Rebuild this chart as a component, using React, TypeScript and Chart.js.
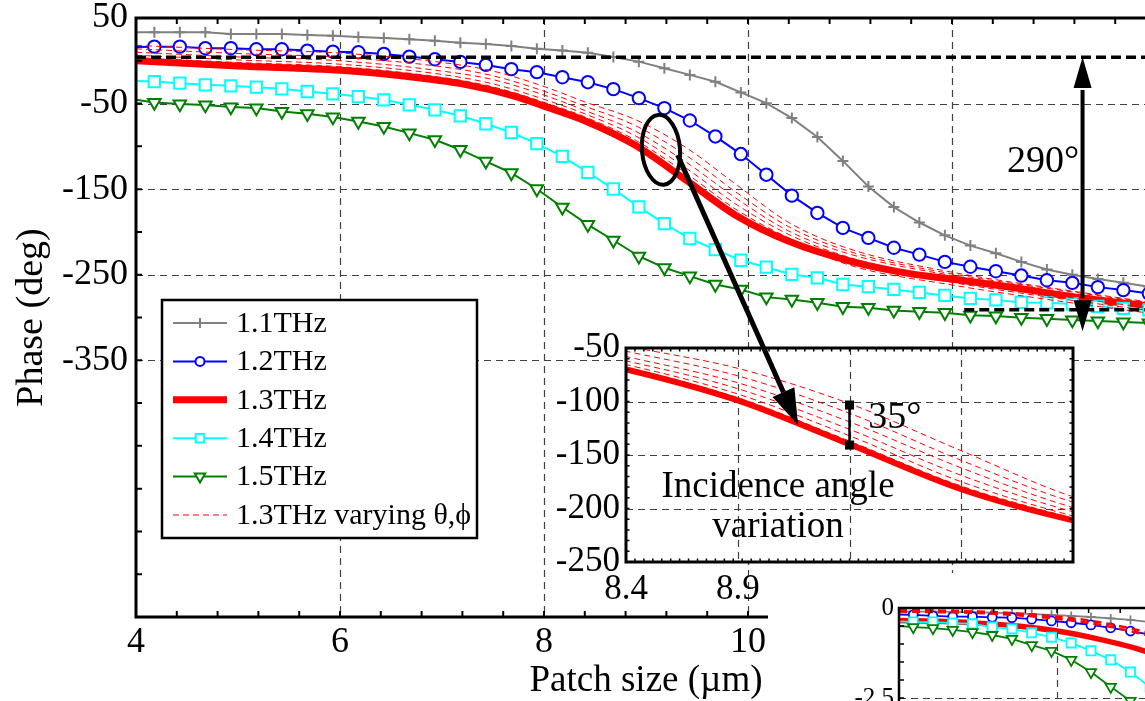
import React, { useEffect, useRef } from 'react';
import { Chart, registerables } from 'chart.js';

Chart.register(...registerables);

const FONT = "'Liberation Serif', 'Times New Roman', serif";

// ---------------- main figure data ----------------
const MARKER_X = [4.18, 4.43, 4.68, 4.93, 5.18, 5.43, 5.68, 5.93, 6.18, 6.43, 6.68, 6.93, 7.18, 7.43, 7.68, 7.93, 8.18, 8.43, 8.68, 8.93, 9.18, 9.43, 9.68, 9.93, 10.18, 10.43, 10.68, 10.93, 11.18, 11.43, 11.68, 11.93, 12.18, 12.43, 12.68, 12.93, 13.18, 13.43, 13.68, 13.93];

const GRAY_START = 33.3;
const GRAY = [33.3, 33.3, 33.3, 31.3, 31.3, 31.3, 30.2, 29.4, 27.8, 26.5, 25.2, 23.5, 21, 19.5, 17.3, 14, 12, 9.5, 4.5, -1, -8.7, -16.5, -24.5, -37, -49.5, -67, -89, -117, -147, -171, -189, -204, -216, -225, -235, -244, -250, -255, -259.5, -264];

const BLUE_START = 16;
const BLUE = [16.5, 16.5, 14.7, 14.7, 13.5, 13.5, 11.9, 10.7, 10, 8, 4.9, 1.8, -1.3, -4.8, -9.8, -13.3, -19.2, -25, -33.1, -43.6, -55.3, -69.8, -88.4, -109, -133.1, -157.6, -177.8, -195.3, -206.9, -218.5, -226.5, -235, -240.7, -245.9, -251, -256.5, -259.5, -264.5, -268, -272];

const CYAN_START = -23.5;
const CYAN = [-24.3, -26.2, -28.1, -29.3, -30.8, -32.8, -35.9, -38.6, -41.8, -45.6, -51.5, -57.3, -64.3, -73.6, -83.8, -96.9, -111.7, -130.4, -149.8, -170.8, -190.2, -207.7, -220.6, -233.1, -241.2, -249.7, -253.6, -261.4, -264, -267.2, -270.7, -274.2, -277.7, -279.4, -282.4, -282.9, -284.1, -287, -289.4, -291];

const GREEN_START = -45.6;
const GREEN = [-48.8, -50.6, -51.8, -54.1, -55.3, -59.3, -62, -65.8, -70.9, -76.8, -84.5, -92.3, -103.9, -117.6, -131.1, -149.8, -171.2, -191.4, -209.7, -228.4, -241.9, -251.7, -261.4, -267.2, -276.2, -278.9, -282.7, -287.4, -288.5, -291.7, -293.2, -294.4, -297.5, -298.3, -300.2, -301.4, -303, -304.2, -305.3, -306.5];

const RED_X = [4, 5, 6, 6.6, 7.2, 7.7, 8, 8.4, 8.9, 9.4, 9.9, 10.4, 11, 11.6, 12, 12.6, 13.2, 13.9, 14.2];
const RED_Y = [0, -6, -11, -17.5, -27, -41, -53, -70, -99, -140, -182, -211, -234, -249, -255, -265, -276, -286, -290];

const VAR_X = [4, 5, 6, 7, 7.5, 8, 8.4, 8.9, 9.4, 9.9, 10.4, 11, 12, 13, 14];
const VAR_1 = [18, 13, 9, -2, -12, -30, -48, -69, -102, -146, -189, -220, -247, -266, -283];
const VAR_2 = [14, 8.5, 4, -7, -17.5, -35.5, -53, -76, -111, -155, -194, -223, -249, -267, -284];
const VAR_3 = [10, 4.5, 0, -12, -22, -40, -58, -82.5, -119, -162, -199, -226, -251, -269, -285];
const VAR_4 = [6.5, 1, -4, -16, -27, -45, -62, -88, -126, -169, -203, -230, -256, -274, -290];
const VAR_5 = [3.5, -2, -7, -19.5, -30.5, -48.5, -65.5, -93, -132, -175, -207, -236, -259, -277, -293];
const VAR_6 = [1.5, -4.5, -9.5, -22, -33, -51, -68, -96.5, -137, -179, -209, -239, -262, -280, -296];
const VAR_SETS = [VAR_1, VAR_2, VAR_3, VAR_4, VAR_5, VAR_6];

const SERIES_LABELS = ['1.1THz', '1.2THz', '1.3THz', '1.4THz', '1.5THz', '1.3THz varying θ,ϕ'];

const X_TICKS = [4, 4.4, 4.8, 5.2, 5.6, 6, 6.4, 6.8, 7.2, 7.6, 8, 8.4, 8.8, 9.2, 9.6, 10, 10.4, 10.8, 11.2, 11.6, 12, 12.4, 12.8, 13.2, 13.6, 14];
const X_LABELS = [4, 6, 8, 10, 12, 14];
const X_GRID = [6, 8, 10, 12];
const Y_TICKS = [50, 0, -50, -100, -150, -200, -250, -300, -350, -400, -450, -500, -550, -600, -650];
const Y_LABELS = [50, -50, -150, -250, -350];
const Y_GRID = [-50, -150, -250, -350];

// annotations (data coordinates of the main axes)
const REF_TOP = 4;
const REF_LOW = -291;
const REF_LOW_FROM = 12.12;
const SPAN_X = 13.28;
const SPAN_TOP = 4.5;
const SPAN_BOTTOM = -316;
const SPAN_TEXT = { x: 12.54, y: -118, text: '290°' };
const ELLIPSE_C = { x: 9.147, y: -104 };
const ARROW_FROM = { x: 9.31, y: -110 };

// ---------------- inset data / annotations ----------------
const INSET_X_LABELS = [8.4, 8.9, 9.4, 9.9, 10.4];
const INSET_X_GRID = [8.9, 9.4, 9.9];
const INSET_Y_LABELS = [-50, -100, -150, -200, -250];
const INSET_Y_GRID = [-100, -150, -200];
const ARROW_TO = { x: 9.17, y: -122 };
const BAR = { x: 9.4, top: -103.3, bottom: -140.7 };
const BAR_TEXT = { x: 9.484, y: -115.4, text: '35°' };
const INSET_TEXT = [
  { x: 9.08, y: -180, text: 'Incidence angle' },
  { x: 9.08, y: -218, text: 'variation' },
];

// ---------------- second (cropped) figure ----------------
const SUB_MARKS = 13;
const SUB_GRAY_START = -0.1;
const SUB_GRAY = [-0.1, -0.1, -0.11, -0.12, -0.13, -0.15, -0.17, -0.19, -0.22, -0.25, -0.29, -0.33, -0.39];
const SUB_BLUE_START = -0.18;
const SUB_BLUE = [-0.19, -0.22, -0.24, -0.24, -0.26, -0.27, -0.31, -0.36, -0.41, -0.47, -0.55, -0.64, -0.74];
const SUB_CYAN_START = -0.37;
const SUB_CYAN = [-0.39, -0.39, -0.42, -0.44, -0.53, -0.58, -0.69, -0.81, -0.97, -1.19, -1.44, -1.78, -2.2];
const SUB_GREEN_START = -0.5;
const SUB_GREEN = [-0.53, -0.56, -0.61, -0.67, -0.75, -0.86, -1.03, -1.19, -1.44, -1.78, -2.19, -2.58, -3.0];
const SUB_RED_X = [4, 4.5, 5, 5.5, 6, 6.5, 7, 7.4];
const SUB_RED = [-0.35, -0.37, -0.42, -0.5, -0.64, -0.85, -1.12, -1.4];
const SUB_VAR_X = [4, 5, 5.5, 6, 6.5, 7, 7.4];
const SUB_VAR_A = [-0.05, -0.1, -0.15, -0.24, -0.38, -0.6, -0.82];
const SUB_VAR_B = [-0.1, -0.14, -0.2, -0.3, -0.45, -0.68, -0.9];
const SUB_Y_TICKS = [0, -0.5, -1, -1.5, -2, -2.5, -3, -3.5, -4, -4.5, -5];
const SUB_Y_LABELS = [0, -2.5, -5];
const SUB_X_GRID = [6, 8, 10, 12];
const SUB_Y_GRID = [-2.5];

// ---------------- helpers ----------------
const near = (list: number[], v: number) => list.some((l) => Math.abs(l - v) < 1e-6);
const pairs = (xs: number[], ys: number[]) => xs.map((x, i) => ({ x, y: ys[i] }));
const withStart = (start: number, vals: number[], n = vals.length) => [
  { x: 4, y: start },
  ...MARKER_X.slice(0, n).map((x, i) => ({ x, y: vals[i] })),
];
const noPad = (s: any) => {
  s.paddingTop = 0;
  s.paddingBottom = 0;
  s.paddingLeft = 0;
  s.paddingRight = 0;
};

function markerSet(label: string, color: string, style: string, r: number, start: number, vals: number[], order: number, lw = 2, rot = 0, legendR = 0) {
  return {
    label,
    data: withStart(start, vals),
    borderColor: color,
    backgroundColor: color,
    borderWidth: lw,
    pointStyle: style,
    pointRadius: (c: any) => (c.dataIndex === 0 ? 0 : r),
    pointBorderColor: color,
    pointBackgroundColor: '#ffffff',
    pointBorderWidth: lw,
    pointRotation: rot,
    tension: 0,
    order,
    inLegend: legendR > 0,
    legendMark: legendR,
  };
}

function drawMark(ctx: CanvasRenderingContext2D, style: string, x: number, y: number, r: number, rot: number, color: string, lw: number) {
  ctx.save();
  ctx.strokeStyle = color;
  ctx.fillStyle = '#ffffff';
  ctx.lineWidth = lw;
  ctx.setLineDash([]);
  ctx.beginPath();
  if (style === 'cross') {
    ctx.moveTo(x - r, y);
    ctx.lineTo(x + r, y);
    ctx.moveTo(x, y - r);
    ctx.lineTo(x, y + r);
    ctx.stroke();
    ctx.restore();
    return;
  }
  if (style === 'circle') ctx.arc(x, y, r, 0, Math.PI * 2);
  else if (style === 'rect') {
    const s = r * Math.SQRT1_2;
    ctx.rect(x - s, y - s, 2 * s, 2 * s);
  } else if (style === 'triangle') {
    let a = (rot * Math.PI) / 180;
    for (let i = 0; i < 3; i++) {
      const px = x + Math.sin(a) * r;
      const py = y - Math.cos(a) * r;
      if (i === 0) ctx.moveTo(px, py);
      else ctx.lineTo(px, py);
      a += (2 * Math.PI) / 3;
    }
    ctx.closePath();
  }
  ctx.fill();
  ctx.stroke();
  ctx.restore();
}

function arrowHead(ctx: CanvasRenderingContext2D, fx: number, fy: number, tx: number, ty: number, len: number, halfW: number) {
  const dx = tx - fx;
  const dy = ty - fy;
  const d = Math.hypot(dx, dy) || 1;
  const ux = dx / d;
  const uy = dy / d;
  const bx = tx - ux * len;
  const by = ty - uy * len;
  ctx.beginPath();
  ctx.moveTo(tx, ty);
  ctx.lineTo(bx - uy * halfW, by + ux * halfW);
  ctx.lineTo(bx + uy * halfW, by - ux * halfW);
  ctx.closePath();
  ctx.fill();
  return { bx, by };
}

function dashedGrid(ctx: CanvasRenderingContext2D, a: any, x: any, y: any, xs: number[], ys: number[]) {
  ctx.save();
  ctx.strokeStyle = '#404040';
  ctx.lineWidth = 1.2;
  ctx.setLineDash([7, 5]);
  ctx.beginPath();
  xs.forEach((v) => {
    const p = Math.round(x.getPixelForValue(v)) + 0.5;
    ctx.moveTo(p, a.top);
    ctx.lineTo(p, a.bottom);
  });
  ys.forEach((v) => {
    const p = Math.round(y.getPixelForValue(v)) + 0.5;
    ctx.moveTo(a.left, p);
    ctx.lineTo(a.right, p);
  });
  ctx.stroke();
  ctx.restore();
}

function innerTicks(ctx: CanvasRenderingContext2D, a: any, x: any, y: any, xv: number[], yv: number[], len: number, lw: number, sides: { top: boolean; bottom: boolean; left: boolean; right: boolean }) {
  ctx.save();
  ctx.strokeStyle = '#000';
  ctx.lineWidth = lw;
  ctx.setLineDash([]);
  ctx.beginPath();
  xv.forEach((v) => {
    const p = x.getPixelForValue(v);
    if (sides.bottom) { ctx.moveTo(p, a.bottom); ctx.lineTo(p, a.bottom - len); }
    if (sides.top) { ctx.moveTo(p, a.top); ctx.lineTo(p, a.top + len); }
  });
  yv.forEach((v) => {
    const p = y.getPixelForValue(v);
    if (sides.left) { ctx.moveTo(a.left, p); ctx.lineTo(a.left + len, p); }
    if (sides.right) { ctx.moveTo(a.right, p); ctx.lineTo(a.right - len, p); }
  });
  ctx.stroke();
  ctx.restore();
}

const tickFont = (size: number) => ({ family: FONT, size, lineHeight: 1 });

// ---------------- main chart ----------------
const mainDecor = {
  id: 'mainDecor',
  beforeDatasetsDraw(chart: any) {
    const { ctx, chartArea: a, scales } = chart;
    dashedGrid(ctx, a, scales.x, scales.y, X_GRID, Y_GRID);
  },
  afterDatasetsDraw(chart: any) {
    const { ctx, chartArea: a, scales } = chart;
    const x = scales.x;
    const y = scales.y;
    ctx.save();
    ctx.strokeStyle = '#000';
    ctx.lineWidth = 3.5;
    ctx.setLineDash([10, 5]);
    let py = y.getPixelForValue(REF_TOP);
    ctx.beginPath();
    ctx.moveTo(a.left, py);
    ctx.lineTo(a.right, py);
    ctx.stroke();
    py = y.getPixelForValue(REF_LOW);
    ctx.beginPath();
    ctx.moveTo(x.getPixelForValue(REF_LOW_FROM), py);
    ctx.lineTo(a.right, py);
    ctx.stroke();
    ctx.setLineDash([]);
    const ax = x.getPixelForValue(SPAN_X);
    const y1 = y.getPixelForValue(SPAN_TOP);
    const y2 = y.getPixelForValue(SPAN_BOTTOM);
    ctx.fillStyle = '#000';
    const h1 = arrowHead(ctx, ax, y2, ax, y1, 31, 9);
    const h2 = arrowHead(ctx, ax, y1, ax, y2, 31, 9);
    ctx.lineWidth = 4;
    ctx.beginPath();
    ctx.moveTo(ax, h1.by + 2);
    ctx.lineTo(ax, h2.by - 2);
    ctx.stroke();
    ctx.font = `38px ${FONT}`;
    ctx.textAlign = 'left';
    ctx.textBaseline = 'middle';
    ctx.fillText(SPAN_TEXT.text, x.getPixelForValue(SPAN_TEXT.x), y.getPixelForValue(SPAN_TEXT.y));
    ctx.lineWidth = 4;
    ctx.beginPath();
    ctx.ellipse(x.getPixelForValue(ELLIPSE_C.x), y.getPixelForValue(ELLIPSE_C.y), 19, 35, -0.08, 0, Math.PI * 2);
    ctx.stroke();
    ctx.lineWidth = 3;
    ctx.beginPath();
    ctx.moveTo(a.right, a.top);
    ctx.lineTo(a.left, a.top);
    ctx.lineTo(a.left, a.bottom);
    ctx.lineTo(a.right, a.bottom);
    ctx.stroke();
    ctx.restore();
    innerTicks(ctx, a, x, y, x.ticks.map((t: any) => t.value), y.ticks.map((t: any) => t.value), 6, 2, { top: true, bottom: true, left: true, right: true });
  },
  afterDraw(chart: any) {
    const { ctx, chartArea: a } = chart;
    const L = a.left + 26;
    const T = a.top + 282;
    const W = 315;
    const H = 238;
    ctx.save();
    ctx.fillStyle = '#fff';
    ctx.fillRect(L, T, W, H);
    ctx.lineWidth = 2.5;
    ctx.strokeStyle = '#000';
    ctx.strokeRect(L, T, W, H);
    const items = chart.data.datasets.filter((d: any) => d.inLegend);
    items.forEach((d: any, i: number) => {
      const cy = T + 23 + i * 38.4;
      ctx.save();
      ctx.strokeStyle = d.borderColor;
      ctx.lineWidth = d.borderWidth;
      ctx.setLineDash(d.borderDash || []);
      ctx.beginPath();
      ctx.moveTo(L + 11, cy);
      ctx.lineTo(L + 65, cy);
      ctx.stroke();
      ctx.restore();
      if (d.legendMark > 0 && d.pointStyle) drawMark(ctx, d.pointStyle, L + 38, cy, d.legendMark, d.pointRotation || 0, d.borderColor, 2);
      ctx.fillStyle = '#000';
      ctx.font = `30px ${FONT}`;
      ctx.textAlign = 'left';
      ctx.textBaseline = 'middle';
      ctx.fillText(d.label, L + 74, cy + 1);
    });
    ctx.restore();
  },
};

function mainConfig(): any {
  const datasets: any[] = [
    markerSet(SERIES_LABELS[0], '#808080', 'cross', 5.5, GRAY_START, GRAY, 5, 2, 0, 5),
    markerSet(SERIES_LABELS[1], '#0000ff', 'circle', 6.2, BLUE_START, BLUE, 4, 2, 0, 4.5),
    {
      label: SERIES_LABELS[2],
      data: pairs(RED_X, RED_Y),
      borderColor: '#ff0000',
      borderWidth: 7,
      pointRadius: 0,
      cubicInterpolationMode: 'monotone',
      borderJoinStyle: 'round',
      order: 3,
      inLegend: true,
      legendMark: 0,
    },
    markerSet(SERIES_LABELS[3], '#00ffff', 'rect', 8, CYAN_START, CYAN, 2, 2, 0, 6),
    markerSet(SERIES_LABELS[4], '#008000', 'triangle', 7.2, GREEN_START, GREEN, 1, 2, 180, 6),
    ...VAR_SETS.map((vals, i) => ({
      label: SERIES_LABELS[5],
      data: pairs(VAR_X, vals),
      borderColor: '#ff0000',
      borderWidth: 1,
      borderDash: [6, 4],
      pointRadius: 0,
      cubicInterpolationMode: 'monotone',
      order: 0,
      inLegend: i === 0,
      legendMark: 0,
    })),
  ];
  return {
    type: 'line',
    data: { datasets },
    options: {
      responsive: false,
      animation: false,
      devicePixelRatio: 1,
      events: [],
      layout: { padding: { left: 0, top: 18, right: 44, bottom: 0 } },
      plugins: { legend: { display: false }, tooltip: { enabled: false } },
      scales: {
        x: {
          type: 'linear',
          min: 4,
          max: 14,
          afterBuildTicks: (s: any) => { s.ticks = X_TICKS.map((v) => ({ value: v })); },
          afterFit: (s: any) => { s.height = 84; noPad(s); },
          ticks: {
            autoSkip: false, maxRotation: 0, minRotation: 0, padding: 8, color: '#000', font: tickFont(36),
            callback: (v: number) => (near(X_LABELS, v) ? String(Math.round(v)) : ''),
          },
          grid: { display: false, drawTicks: false },
          border: { display: false },
          title: { display: true, text: 'Patch size (µm)', color: '#000', font: { family: FONT, size: 37, lineHeight: 1 }, padding: { top: 0, bottom: 1 } },
        },
        y: {
          type: 'linear',
          min: -650,
          max: 50,
          afterBuildTicks: (s: any) => { s.ticks = Y_TICKS.map((v) => ({ value: v })); },
          afterFit: (s: any) => { s.width = 136; noPad(s); },
          ticks: {
            autoSkip: false, padding: 8, color: '#000', font: tickFont(36),
            callback: (v: number) => (near(Y_LABELS, v) ? String(v) : ''),
          },
          grid: { display: false, drawTicks: false },
          border: { display: false },
          title: { display: true, text: 'Phase (deg)', color: '#000', font: { family: FONT, size: 38, lineHeight: 1 }, padding: { top: 13, bottom: 0 } },
        },
      },
    },
    plugins: [mainDecor],
  };
}

// ---------------- inset chart ----------------
function insetDecor(getMain: () => any) {
  return {
    id: 'insetDecor',
    beforeDatasetsDraw(chart: any) {
      const { ctx, chartArea: a, scales } = chart;
      ctx.save();
      ctx.fillStyle = '#fff';
      ctx.fillRect(a.left, a.top, a.right - a.left, a.bottom - a.top);
      ctx.restore();
      dashedGrid(ctx, a, scales.x, scales.y, INSET_X_GRID, INSET_Y_GRID);
    },
    afterDatasetsDraw(chart: any) {
      const { ctx, chartArea: a, scales } = chart;
      const x = scales.x;
      const y = scales.y;
      const xm: number[] = [];
      for (let v = 8.4; v <= 10.4 + 1e-9; v += 0.04) xm.push(v);
      const ym: number[] = [];
      for (let v = -250; v <= -50 + 1e-9; v += 10) ym.push(v);
      innerTicks(ctx, a, x, y, xm, ym, 3.5, 1.5, { top: true, bottom: true, left: true, right: true });
      ctx.save();
      ctx.strokeStyle = '#000';
      ctx.lineWidth = 3;
      ctx.strokeRect(a.left, a.top, a.right - a.left, a.bottom - a.top);
      const bx = x.getPixelForValue(BAR.x);
      const bt = y.getPixelForValue(BAR.top);
      const bb = y.getPixelForValue(BAR.bottom);
      ctx.lineWidth = 2.5;
      ctx.beginPath();
      ctx.moveTo(bx, bt);
      ctx.lineTo(bx, bb);
      ctx.stroke();
      ctx.fillStyle = '#000';
      ctx.fillRect(bx - 4.5, bt - 4.5, 9, 9);
      ctx.fillRect(bx - 4.5, bb - 4.5, 9, 9);
      ctx.textBaseline = 'middle';
      ctx.font = `38px ${FONT}`;
      ctx.textAlign = 'left';
      ctx.fillText(BAR_TEXT.text, x.getPixelForValue(BAR_TEXT.x), y.getPixelForValue(BAR_TEXT.y));
      ctx.font = `37px ${FONT}`;
      ctx.textAlign = 'center';
      INSET_TEXT.forEach((t) => ctx.fillText(t.text, x.getPixelForValue(t.x), y.getPixelForValue(t.y)));
      const m = getMain();
      if (m) {
        const sx = m.scales.x.getPixelForValue(ARROW_FROM.x);
        const sy = m.scales.y.getPixelForValue(ARROW_FROM.y);
        const tx = x.getPixelForValue(ARROW_TO.x);
        const ty = y.getPixelForValue(ARROW_TO.y);
        const h = arrowHead(ctx, sx, sy, tx, ty, 36, 12);
        ctx.lineWidth = 5;
        ctx.beginPath();
        ctx.moveTo(sx, sy);
        ctx.lineTo(h.bx, h.by);
        ctx.stroke();
      }
      ctx.restore();
    },
  };
}

function insetConfig(getMain: () => any): any {
  const datasets: any[] = [
    ...VAR_SETS.map((vals) => ({
      data: pairs(VAR_X, vals),
      borderColor: '#ff0000',
      borderWidth: 1,
      borderDash: [6, 4],
      pointRadius: 0,
      cubicInterpolationMode: 'monotone',
      order: 0,
    })),
    {
      data: pairs(RED_X, RED_Y),
      borderColor: '#ff0000',
      borderWidth: 6,
      pointRadius: 0,
      cubicInterpolationMode: 'monotone',
      borderJoinStyle: 'round',
      order: 1,
    },
  ];
  return {
    type: 'line',
    data: { datasets },
    options: {
      responsive: false,
      animation: false,
      devicePixelRatio: 1,
      events: [],
      layout: { padding: { left: 0, top: 348, right: 72, bottom: 0 } },
      plugins: { legend: { display: false }, tooltip: { enabled: false } },
      scales: {
        x: {
          type: 'linear', min: 8.4, max: 10.4,
          afterBuildTicks: (s: any) => { s.ticks = INSET_X_LABELS.map((v) => ({ value: v })); },
          afterFit: (s: any) => { s.height = 139; noPad(s); },
          ticks: { autoSkip: false, maxRotation: 0, minRotation: 0, padding: 10, color: '#000', font: tickFont(35), callback: (v: number) => Number(v).toFixed(1) },
          grid: { display: false, drawTicks: false },
          border: { display: false },
        },
        y: {
          type: 'linear', min: -250, max: -50,
          afterBuildTicks: (s: any) => { s.ticks = INSET_Y_LABELS.map((v) => ({ value: v })); },
          afterFit: (s: any) => { s.width = 626; noPad(s); },
          ticks: { autoSkip: false, padding: 6, color: '#000', font: tickFont(35), callback: (v: number) => String(v) },
          grid: { display: false, drawTicks: false },
          border: { display: false },
        },
      },
    },
    plugins: [insetDecor(getMain)],
  };
}

// ---------------- second (cropped) figure ----------------
const subDecor = {
  id: 'subDecor',
  beforeDraw(chart: any) {
    const { ctx, chartArea: a } = chart;
    ctx.save();
    ctx.fillStyle = '#fff';
    ctx.fillRect(a.left - 131, a.top - 35, 3000, 3000);
    ctx.restore();
  },
  beforeDatasetsDraw(chart: any) {
    const { ctx, chartArea: a, scales } = chart;
    dashedGrid(ctx, a, scales.x, scales.y, SUB_X_GRID, SUB_Y_GRID);
  },
  afterDatasetsDraw(chart: any) {
    const { ctx, chartArea: a, scales } = chart;
    const x = scales.x;
    const y = scales.y;
    innerTicks(ctx, a, x, y, X_TICKS, SUB_Y_TICKS, 5, 1.5, { top: true, bottom: false, left: true, right: false });
    ctx.save();
    ctx.strokeStyle = '#000';
    ctx.lineWidth = 2.5;
    ctx.beginPath();
    ctx.moveTo(a.right, a.top);
    ctx.lineTo(a.left, a.top);
    ctx.lineTo(a.left, a.bottom);
    ctx.stroke();
    ctx.restore();
  },
};

function subConfig(): any {
  const sub = (label: string, color: string, style: string, r: number, start: number, vals: number[], order: number, rot = 0) => ({
    ...markerSet(label, color, style, r, start, vals, order, 1.8, rot, 0),
    data: withStart(start, vals, SUB_MARKS),
  });
  const datasets: any[] = [
    sub(SERIES_LABELS[0], '#808080', 'cross', 4.5, SUB_GRAY_START, SUB_GRAY, 5),
    sub(SERIES_LABELS[1], '#0000ff', 'circle', 4.5, SUB_BLUE_START, SUB_BLUE, 4),
    { data: pairs(SUB_RED_X, SUB_RED), borderColor: '#ff0000', borderWidth: 5.5, pointRadius: 0, cubicInterpolationMode: 'monotone', order: 3 },
    sub(SERIES_LABELS[3], '#00ffff', 'rect', 6.5, SUB_CYAN_START, SUB_CYAN, 2),
    sub(SERIES_LABELS[4], '#008000', 'triangle', 6, SUB_GREEN_START, SUB_GREEN, 1, 180),
    { data: pairs(SUB_VAR_X, SUB_VAR_A), borderColor: '#ff0000', borderWidth: 2.5, borderDash: [8, 5], pointRadius: 0, cubicInterpolationMode: 'monotone', order: 0 },
    { data: pairs(SUB_VAR_X, SUB_VAR_B), borderColor: '#ff0000', borderWidth: 2.5, borderDash: [8, 5], pointRadius: 0, cubicInterpolationMode: 'monotone', order: 0 },
  ];
  return {
    type: 'line',
    data: { datasets },
    options: {
      responsive: false,
      animation: false,
      devicePixelRatio: 1,
      events: [],
      layout: { padding: { left: 0, top: 608, right: 31, bottom: 0 } },
      plugins: { legend: { display: false }, tooltip: { enabled: false } },
      scales: {
        x: {
          type: 'linear', min: 4, max: 14,
          afterBuildTicks: (s: any) => { s.ticks = X_TICKS.map((v) => ({ value: v })); },
          afterFit: (s: any) => { s.height = 42; noPad(s); },
          ticks: { display: false },
          grid: { display: false, drawTicks: false },
          border: { display: false },
        },
        y: {
          type: 'linear', min: -5, max: 0,
          afterBuildTicks: (s: any) => { s.ticks = SUB_Y_TICKS.map((v) => ({ value: v })); },
          afterFit: (s: any) => { s.width = 899; noPad(s); },
          ticks: { autoSkip: false, padding: 5, color: '#000', font: tickFont(25), callback: (v: number) => (near(SUB_Y_LABELS, v) ? String(v) : '') },
          grid: { display: false, drawTicks: false },
          border: { display: false },
        },
      },
    },
    plugins: [subDecor],
  };
}

export default function App() {
  const mainRef = useRef<HTMLCanvasElement>(null);
  const insetRef = useRef<HTMLCanvasElement>(null);
  const subRef = useRef<HTMLCanvasElement>(null);

  useEffect(() => {
    if (!mainRef.current || !insetRef.current || !subRef.current) return;
    const main = new Chart(mainRef.current, mainConfig());
    const inset = new Chart(insetRef.current, insetConfig(() => main));
    const sub = new Chart(subRef.current, subConfig());
    return () => {
      sub.destroy();
      inset.destroy();
      main.destroy();
    };
  }, []);

  const abs: React.CSSProperties = { position: 'absolute', left: 0, top: 0 };
  return (
    <div style={{ position: 'absolute', left: 0, top: 0, width: 1145, height: 701, overflow: 'hidden', background: '#fff' }}>
      <canvas ref={mainRef} width={1200} height={701} style={{ ...abs, width: 1200, height: 701 }} />
      <canvas ref={insetRef} width={1145} height={701} style={{ ...abs, width: 1145, height: 701 }} />
      <canvas ref={subRef} width={1720} height={830} style={{ ...abs, width: 1720, height: 830 }} />
    </div>
  );
}
